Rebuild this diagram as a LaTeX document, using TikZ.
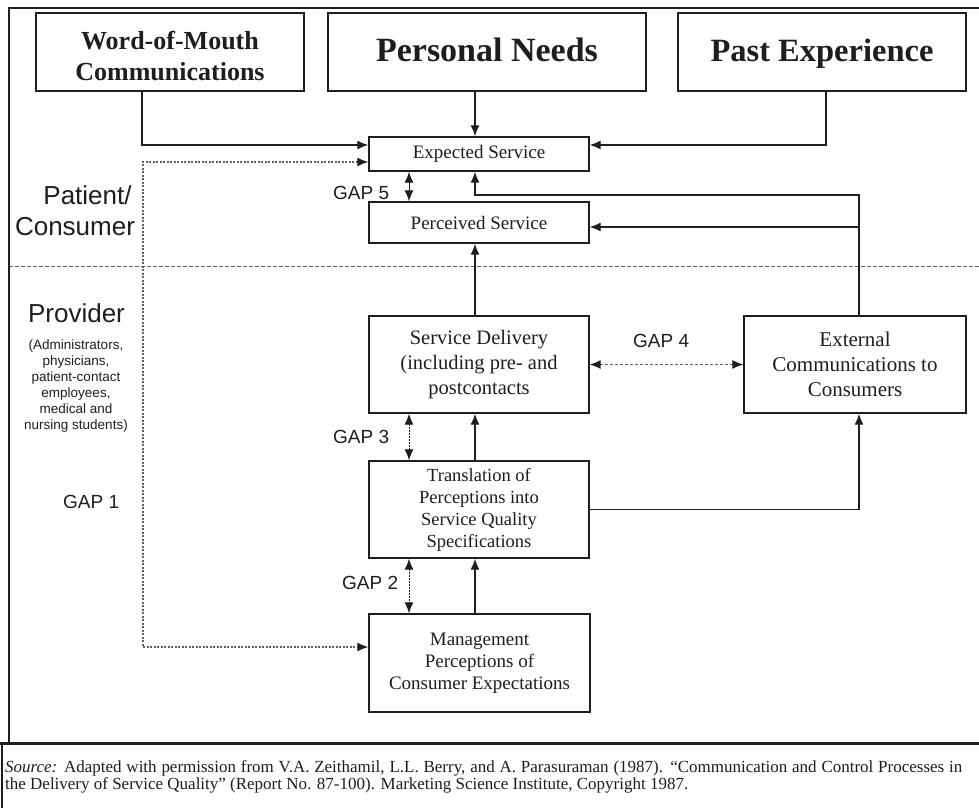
\documentclass[tikz,border=0pt]{standalone}
\usepackage{fontspec}
\setmainfont{Liberation Serif}
\newfontfamily\sansf{Liberation Sans}
\usetikzlibrary{arrows.meta}
\definecolor{ink}{HTML}{1E1E1E}
\definecolor{gline}{HTML}{606060}
\newcommand{\srcone}{\textit{Source:} Adapted with permission from V.A. Zeithamil, L.L. Berry, and A. Parasuraman (1987). “Communication and Control Processes in}
\newcommand{\srctwo}{the Delivery of Service Quality” (Report No. 87-100). Marketing Science Institute, Copyright 1987.}
\newlength\srcw
\begin{document}
\settowidth\srcw{\fontsize{14}{17}\selectfont\srctwo}
\pgfmathsetmacro\srcsize{14*683/\srcw}
\begin{tikzpicture}[x=1pt,y=-1pt,
  box/.style={draw=ink, line width=1.4pt, rectangle, inner sep=0pt, align=center, text=ink},
  arr/.style={draw=ink, line width=1.4pt, -{Latex[length=11pt,width=9pt]}},
  dbl/.style={draw=ink, line width=1pt, dash pattern=on 1.5pt off 1.5pt, {Latex[length=11pt,width=9pt]}-{Latex[length=11pt,width=9pt]}},
  gapfive/.style={draw=ink, line width=1pt, {Latex[length=11pt,width=9pt]}-{Latex[length=11pt,width=9pt]}},
  gapfour/.style={draw=gline, line width=1pt, dash pattern=on 3pt off 2pt, {Latex[length=11pt,width=9pt,color=ink]}-{Latex[length=11pt,width=9pt,color=ink]}},
  gapone/.style={draw=gline, line width=1.1pt, dash pattern=on 2pt off 1.5pt, {Latex[length=11pt,width=9pt,color=ink]}-{Latex[length=11pt,width=9pt,color=ink]}},
  lab/.style={font=\sansf\fontsize{19}{22}\selectfont, text=ink, inner sep=0pt, anchor=base west},
  side/.style={font=\sansf\fontsize{26}{30}\selectfont, text=ink, inner sep=0pt, anchor=base}
]
\useasboundingbox (0,0) rectangle (979,808);
\fill[white] (0,0) rectangle (979,808);

% frame
\draw[ink, line width=2pt] (9,743) -- (9,8) -- (979,8);
\draw[ink, line width=3pt] (0,743) -- (979,743);
\draw[ink, line width=2pt] (2,743) -- (2,808);
\draw[gline, line width=0.9pt, dash pattern=on 4pt off 2pt] (9,266) -- (979,266);

% boxes
\node[box, minimum width=268pt, minimum height=78pt, text height=56pt, text depth=0pt, font=\bfseries\fontsize{26}{31}\selectfont] (wom) at (170,52) {Word-of-Mouth\\Communications};
\node[box, minimum width=318pt, minimum height=78pt, text height=24pt, text depth=4pt, font=\bfseries\fontsize{34}{38}\selectfont] (pn) at (487,52) {Personal Needs};
\node[box, minimum width=288pt, minimum height=78pt, text height=24pt, text depth=4pt, font=\bfseries\fontsize{32.5}{38}\selectfont] (pe) at (822,52) {Past Experience};
\node[box, minimum width=220pt, minimum height=34pt, font=\fontsize{19}{22}\selectfont] (exp) at (479,154) {Expected Service};
\node[box, minimum width=220pt, minimum height=41pt, font=\fontsize{19}{22}\selectfont] (per) at (479,222.5) {Perceived Service};
\node[box, minimum width=220pt, minimum height=97pt, font=\fontsize{20.5}{25}\selectfont] (sd) at (479,364.5) {Service Delivery\\(including pre- and\\postcontacts};
\node[box, minimum width=222pt, minimum height=97pt, font=\fontsize{21}{25}\selectfont] (ext) at (855,364.5) {External\\Communications to\\Consumers};
\node[box, minimum width=220pt, minimum height=97pt, font=\fontsize{18.5}{22}\selectfont] (tr) at (479,509.5) {Translation of\\Perceptions into\\Service Quality\\Specifications};
\node[box, minimum width=221pt, minimum height=98pt, font=\fontsize{19}{22}\selectfont] (mg) at (479.5,663) {Management\\Perceptions of\\Consumer Expectations};

% side labels
\node[side] (pat) at (87.5,204) {Patient/};
\node[side] (con) at (75,235) {Consumer};
\node[side] (prov) at (76.5,322) {Provider};
\node[font=\sansf\fontsize{13.5}{16}\selectfont, text=ink, align=center, inner sep=0pt] (provsub) at (76,386.5) {(Administrators,\\physicians,\\patient-contact\\employees,\\medical and\\nursing students)};

% gap labels
\node[lab] (g5) at (333,199) {GAP 5};
\node[lab] (g4) at (633,347) {GAP 4};
\node[lab] (g3) at (333,443) {GAP 3};
\node[lab] (g2) at (342,589) {GAP 2};
\node[lab] (g1) at (63,508) {GAP 1};

% helper coordinates
\coordinate (cA) at (475,0);
\coordinate (cG) at (409,0);
\coordinate (w1) at (142,145);
\coordinate (p1) at (826,145);
\coordinate (g1t) at (143,162);
\coordinate (g1b) at (143,647);
\coordinate (f1) at (859,195);
\coordinate (f2) at (859,227);

% connectors
\draw[arr] (wom.south -| w1) -- (w1) -- (exp.west |- w1);
\draw[arr] (pn.south -| cA) -- (exp.north -| cA);
\draw[arr] (pe.south -| p1) -- (p1) -- (exp.east |- p1);
\draw[gapone] (exp.west |- g1t) -- (g1t) -- (g1b) -- (mg.west |- g1b);
\draw[gapfive] (exp.south -| cG) -- (per.north -| cG);
\draw[arr] (ext.north -| f1) -- (f1) -- (f1 -| cA) -- (exp.south -| cA);
\draw[arr] (f2) -- (per.east |- f2);
\draw[arr] (sd.north -| cA) -- (per.south -| cA);
\draw[gapfour] (sd.east) -- (ext.west);
\draw[dbl] (sd.south -| cG) -- (tr.north -| cG);
\draw[arr] (tr.north -| cA) -- (sd.south -| cA);
\draw[arr] (tr.east) -- (tr.east -| f1) -- (ext.south -| f1);
\draw[dbl] (tr.south -| cG) -- (mg.north -| cG);
\draw[arr] (mg.north -| cA) -- (tr.south -| cA);

% source
\node[anchor=base west, inner sep=0pt, text=ink, font=\fontsize{\srcsize}{17}\selectfont] (src1) at (5,772) {\makebox[957pt][s]{\srcone}};
\node[anchor=base west, inner sep=0pt, text=ink, font=\fontsize{\srcsize}{17}\selectfont] (src2) at (5,789) {\srctwo};
\end{tikzpicture}
\end{document}
